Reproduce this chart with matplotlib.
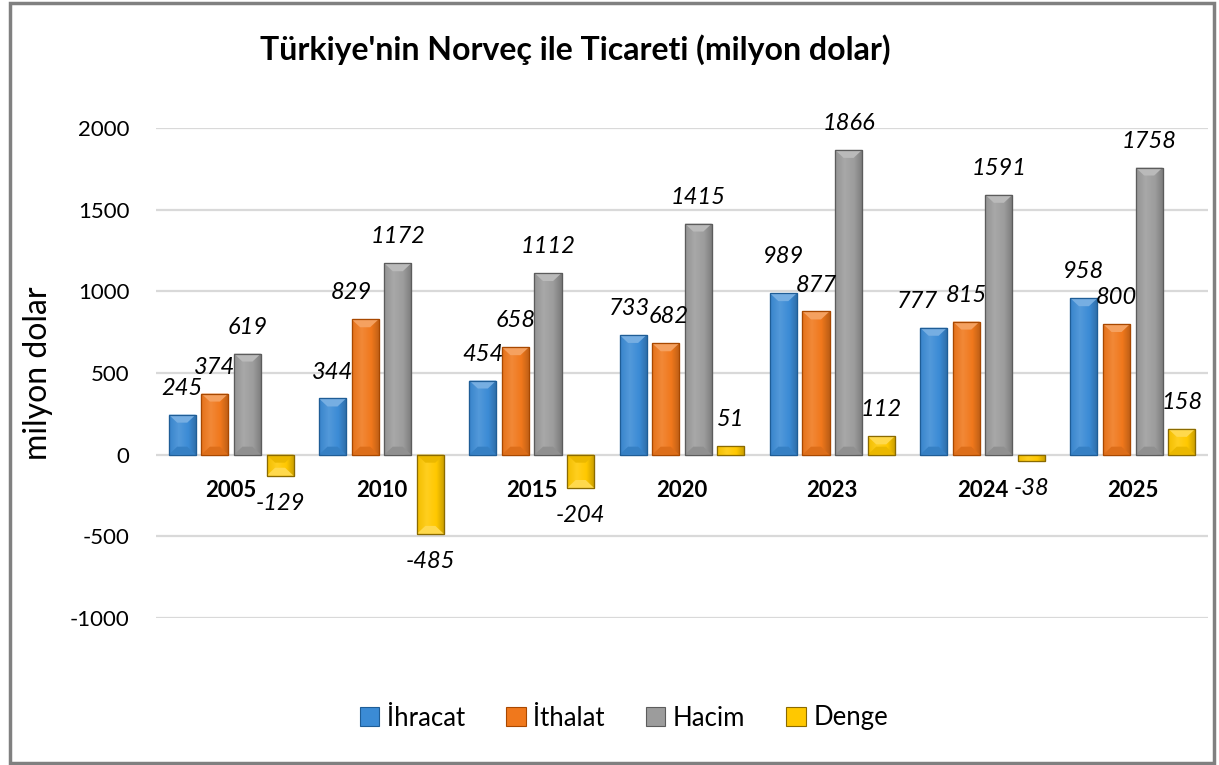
import matplotlib
matplotlib.use("Agg")
import matplotlib.pyplot as plt
import numpy as np
from matplotlib.patches import Rectangle, Polygon, Patch
import matplotlib.colors as mcolors

plt.rcParams['font.family'] = ['Lato', 'DejaVu Sans']
plt.rcParams['axes.unicode_minus'] = False

years = ["2005", "2010", "2015", "2020", "2023", "2024", "2025"]
ihracat = [245, 344, 454, 733, 989, 777, 958]
ithalat = [374, 829, 658, 682, 877, 815, 800]
hacim = [619, 1172, 1112, 1415, 1866, 1591, 1758]
denge = [-129, -485, -204, 51, 112, -38, 158]
series_names = ["İhracat", "İthalat", "Hacim", "Denge"]
colors = ["#3b8bd5", "#f0781c", "#9c9c9c", "#ffc800"]
edges = ["#1f5d96", "#a84800", "#5c5c5c", "#8a6a00"]

# manual label nudges (pixels dx, dy) as placed in the original chart
label_shift = {(1, 1): (-14, 0), (0, 4): (0, 10), (0, 5): (-16, 0),
               (0, 3): (-4, 0), (1, 3): (3, 0)}

W, H = 1219, 765
fig = plt.figure(figsize=(W / 100, H / 100), dpi=100)
ax = fig.add_axes([156 / W, 1 - 618 / H, (1208 - 156) / W, (618 - 128) / H])

ax.set_ylim(-1000, 2000)
ax.set_xlim(-0.5, len(years) - 0.5)
ax.spines['bottom'].set_position(('data', 0))
for s in ax.spines.values():
    s.set_visible(False)
ax.set_yticks(np.arange(-1000, 2001, 500))
ax.grid(axis='y', color='#d9d9d9', linewidth=1.6)
ax.set_axisbelow(True)
ax.tick_params(axis='y', length=0, pad=19, labelsize=16)
ax.set_xticks(np.arange(len(years)))
ax.set_xticklabels(years, fontweight='bold', fontsize=16)
ax.tick_params(axis='x', length=0, pad=18)
ax.set_ylabel("milyon dolar", fontsize=23, labelpad=12)

x = np.arange(len(years))
step = 0.217
width = 0.18
all_series = [ihracat, ithalat, hacim, denge]

px_x = (1208 - 156) / 7.0
px_y = (618 - 128) / 3000.0


def lighten(c, f):
    r = np.array(mcolors.to_rgb(c))
    return tuple(r + (1 - r) * f)


def darken(c, f):
    r = np.array(mcolors.to_rgb(c))
    return tuple(r * (1 - f))


for i, (vals, col, ec) in enumerate(zip(all_series, colors, edges)):
    xs = x + (i - 1.5) * step
    bars = ax.bar(xs, vals, width=width, color=col, edgecolor=ec, linewidth=0.8, zorder=3)
    cmap = mcolors.LinearSegmentedColormap.from_list(
        f"g{i}", [(0, darken(col, 0.05)), (0.35, lighten(col, 0.12)), (0.7, col), (1, darken(col, 0.22))])
    grad = np.linspace(0, 1, 64).reshape(1, -1)
    for j, (b, v) in enumerate(zip(bars, vals)):
        x0 = b.get_x()
        x1 = x0 + b.get_width()
        xc = (x0 + x1) / 2
        sgn = 1 if v >= 0 else -1
        top, bot = v, 0
        im = ax.imshow(grad, cmap=cmap, aspect='auto', extent=(x0, x1, min(top, bot), max(top, bot)),
                       zorder=3.5, interpolation='bilinear')
        im.set_clip_path(b)
        hpx = abs(v) * px_y
        dy = min(8, hpx / 2) / px_y
        dx = 5 / px_x
        if hpx > 10:
            ax.add_patch(Polygon([(x0, top), (x1, top), (xc + dx, top - sgn * dy), (xc - dx, top - sgn * dy)],
                                 closed=True, facecolor=lighten(col, 0.3), edgecolor='none', zorder=4))
            ax.add_patch(Polygon([(x0, bot), (x1, bot), (xc + dx, bot + sgn * dy), (xc - dx, bot + sgn * dy)],
                                 closed=True, facecolor=darken(col, 0.08), edgecolor='none', zorder=4))
        ax.add_patch(Rectangle((x0, bot), x1 - x0, top - bot, facecolor='none', edgecolor=ec,
                               linewidth=0.9, zorder=5))
        off = 19 if v >= 0 else -20
        sx, sy = label_shift.get((i, j), (0, 0))
        ax.annotate(f"{v}", (xc, v), xytext=(sx * 0.72, off + sy * 0.72),
                    textcoords='offset points', ha='center', va='center', fontsize=17,
                    fontstyle='italic', color='#000000', annotation_clip=False, zorder=6)

ax.set_xlim(-0.5, len(years) - 0.5)
ax.set_ylim(-1000, 2000)

fig.text(0.472, 1 - 50 / H, "Türkiye'nin Norveç ile Ticareti (milyon dolar)", ha='center', va='center',
         fontsize=23, fontweight='bold')

handles = [Patch(facecolor=c, edgecolor=e, linewidth=0.8) for c, e in zip(colors, edges)]
fig.legend(handles, series_names, loc='center', bbox_to_anchor=(0.512, 1 - 718 / H), ncol=4,
           frameon=False, fontsize=18.5, handlelength=0.75, handleheight=0.75, handletextpad=0.3,
           columnspacing=1.6)

fig.add_artist(Rectangle((9.5 / W, 2.5 / H), (1214 - 9.5) / W, (762 - 2.5) / H, transform=fig.transFigure,
                         facecolor='none', edgecolor='#808080', linewidth=2.5))

fig.savefig("out.png", dpi=100)
